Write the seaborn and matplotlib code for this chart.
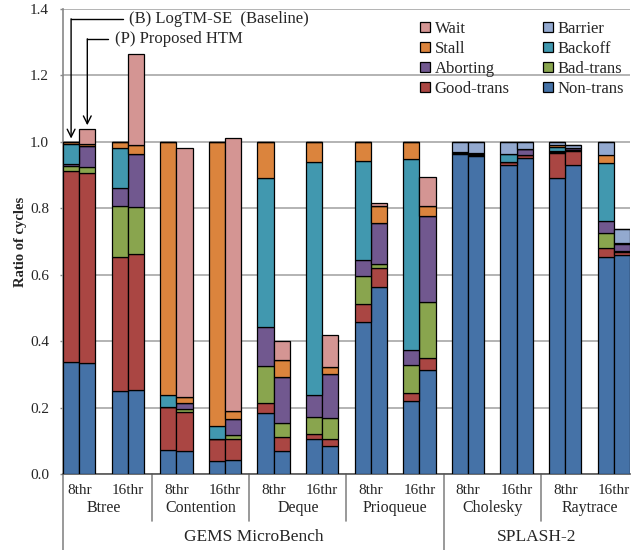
import matplotlib
matplotlib.use("Agg")
import matplotlib.pyplot as plt
import seaborn as sns
import numpy as np

# ---------------- data ----------------
benchmarks = ["Btree", "Contention", "Deque", "Prioqueue", "Cholesky", "Raytrace"]
threads = ["8thr", "16thr"]
suites = ["GEMS MicroBench", "SPLASH-2"]
suite_sizes = [4, 2]
ytick_vals = [0.0, 0.2, 0.4, 0.6, 0.8, 1.0, 1.2, 1.4]

# order of bars: for each benchmark, for each thread count: (B) baseline, (P) proposed
non_trans = [0.337, 0.335, 0.249, 0.254, 0.073, 0.070, 0.038, 0.043,
             0.183, 0.068, 0.105, 0.085, 0.459, 0.563, 0.221, 0.314,
             0.963, 0.957, 0.930, 0.950, 0.892, 0.930, 0.652, 0.658]
good_trans = [0.574, 0.571, 0.405, 0.407, 0.129, 0.117, 0.066, 0.062,
              0.032, 0.043, 0.014, 0.020, 0.053, 0.057, 0.022, 0.035,
              0.002, 0.002, 0.010, 0.009, 0.075, 0.043, 0.028, 0.011]
bad_trans = [0.016, 0.018, 0.154, 0.143, 0.000, 0.009, 0.000, 0.012,
             0.110, 0.042, 0.052, 0.064, 0.085, 0.011, 0.086, 0.169,
             0.000, 0.001, 0.000, 0.000, 0.003, 0.002, 0.047, 0.003]
aborting = [0.006, 0.063, 0.053, 0.158, 0.000, 0.019, 0.000, 0.048,
            0.117, 0.139, 0.066, 0.132, 0.047, 0.124, 0.043, 0.259,
            0.002, 0.003, 0.000, 0.020, 0.003, 0.008, 0.034, 0.020]
backoff = [0.061, 0.000, 0.121, 0.000, 0.035, 0.000, 0.042, 0.000,
           0.449, 0.000, 0.703, 0.000, 0.299, 0.000, 0.577, 0.000,
           0.002, 0.000, 0.024, 0.000, 0.012, 0.000, 0.174, 0.003]
stall = [0.006, 0.008, 0.018, 0.029, 0.763, 0.016, 0.854, 0.026,
         0.109, 0.050, 0.060, 0.020, 0.057, 0.052, 0.051, 0.030,
         0.001, 0.002, 0.000, 0.000, 0.006, 0.000, 0.024, 0.000]
barrier = [0.000, 0.000, 0.000, 0.000, 0.000, 0.000, 0.000, 0.000,
           0.000, 0.000, 0.000, 0.000, 0.000, 0.000, 0.000, 0.000,
           0.030, 0.035, 0.036, 0.021, 0.009, 0.008, 0.041, 0.042]
wait = [0.000, 0.045, 0.000, 0.273, 0.000, 0.749, 0.000, 0.821,
        0.000, 0.057, 0.000, 0.098, 0.000, 0.010, 0.000, 0.087,
        0.000, 0.000, 0.000, 0.000, 0.000, 0.000, 0.000, 0.000]

series_names = ["Non-trans", "Good-trans", "Bad-trans", "Aborting",
                "Backoff", "Stall", "Barrier", "Wait"]
series_vals = [non_trans, good_trans, bad_trans, aborting,
               backoff, stall, barrier, wait]
colors = {"Non-trans": "#4572A7", "Good-trans": "#AA4643", "Bad-trans": "#89A54E",
          "Aborting": "#71588F", "Backoff": "#4198AF", "Stall": "#DB843D",
          "Barrier": "#93A9CF", "Wait": "#D49593"}

# ---------------- style ----------------
sns.set_theme(style="white")
plt.rcParams["font.family"] = ["Liberation Serif", "DejaVu Serif"]

fig = plt.figure(figsize=(6.35, 5.5), dpi=100)
ax = fig.add_axes([63 / 635, (550 - 474) / 550, (630 - 63) / 635, (474 - 9) / 550])

n_pairs = len(benchmarks) * len(threads)
pos = []
for g in range(n_pairs):
    pos += [3 * g, 3 * g + 1]
pos = np.array(pos, dtype=float)

bottom = np.zeros(len(pos))
handles = {}
for name, vals in zip(series_names, series_vals):
    v = np.array(vals)
    bars = ax.bar(pos, v, width=1.0, bottom=bottom, color=colors[name],
                  edgecolor="black", linewidth=0.9, label=name, zorder=3)
    handles[name] = bars
    bottom += v
totals = bottom

ax.set_xlim(-0.5, 3 * (n_pairs - 1) + 1.5)
ax.set_ylim(0, 1.4)
ax.set_yticks(ytick_vals)
ax.set_yticklabels([f"{t:.1f}" for t in ytick_vals], fontsize=11)
ax.yaxis.grid(True, color="#b3b3b3", linewidth=1.4, zorder=0)
ax.set_axisbelow(True)
ax.set_xticks([])
for s in ["top", "right"]:
    ax.spines[s].set_visible(False)
ax.spines["left"].set_color("#888888")
ax.spines["left"].set_linewidth(1.2)
ax.spines["bottom"].set_color("#555555")
ax.spines["bottom"].set_linewidth(1.2)
ax.tick_params(axis="y", left=True, length=2.5, width=1.0, color="#888888",
               direction="out", pad=7.5)
ax.set_ylabel("Ratio of cycles", fontsize=10.5, fontweight="bold", labelpad=2)

# ---------------- multi-level category axis ----------------
trans = ax.get_xaxis_transform()
axh = 474 - 9
def ya(px):
    return -(px - 474) / axh

for g in range(n_pairs):
    ax.text(3 * g + 0.5, ya(490), threads[g % 2], transform=trans,
            ha="center", va="center", fontsize=11)
for b, name in enumerate(benchmarks):
    ax.text(6 * b + 2, ya(508), name, transform=trans,
            ha="center", va="center", fontsize=11.5)
# separators between benchmarks
seps = [6 * b + 5 for b in range(len(benchmarks) - 1)]
suite_edges = [-0.5]
acc = 0
for s in suite_sizes[:-1]:
    acc += s
    suite_edges.append(6 * acc - 1)
for x in seps:
    if x in suite_edges:
        continue
    ax.plot([x, x], [0, ya(521)], transform=trans, color="#888888",
            linewidth=1.2, clip_on=False)
for x in suite_edges:
    ax.plot([x, x], [0, ya(552)], transform=trans, color="#888888",
            linewidth=1.2, clip_on=False)
acc = 0
for s, name in zip(suite_sizes, suites):
    start = 6 * acc - 0.5 if acc == 0 else 6 * acc - 1
    end = 6 * (acc + s) - 1 if acc + s < len(benchmarks) else ax.get_xlim()[1]
    ax.text((start + end) / 2, ya(537), name, transform=trans,
            ha="center", va="center", fontsize=12.5)
    acc += s

# ---------------- annotations ----------------
def ydata(px):
    return (474 - px) / 332.0

xb, xp = pos[0], pos[1]
ax.plot([xb, xb + 3.2], [ydata(19), ydata(19)], color="black", lw=1.0, clip_on=False, zorder=5)
ax.annotate("", xy=(xb, totals[0] + 0.01), xytext=(xb, ydata(19)),
            arrowprops=dict(arrowstyle="->", color="black", lw=1.0,
                            shrinkA=0, shrinkB=0, mutation_scale=14), zorder=5)
ax.text(xb + 3.6, ydata(19), "(B) LogTM-SE  (Baseline)", ha="left", va="center",
        fontsize=12)
ax.plot([xp, xp + 1.3], [ydata(39), ydata(39)], color="black", lw=1.0, clip_on=False, zorder=5)
ax.annotate("", xy=(xp, totals[1] + 0.01), xytext=(xp, ydata(39)),
            arrowprops=dict(arrowstyle="->", color="black", lw=1.0,
                            shrinkA=0, shrinkB=0, mutation_scale=14), zorder=5)
ax.text(xp + 1.7, ydata(39), "(P) Proposed HTM", ha="left", va="center",
        fontsize=12)

# ---------------- legend ----------------
order = ["Wait", "Stall", "Aborting", "Good-trans",
         "Barrier", "Backoff", "Bad-trans", "Non-trans"]
leg = ax.legend([handles[n] for n in order], order, ncol=2, loc="upper left",
                bbox_to_anchor=(413 / 635, (550 - 14) / 550), bbox_transform=fig.transFigure,
                frameon=False, fontsize=12, handlelength=0.6, handleheight=0.6,
                handletextpad=0.3, columnspacing=2.0, labelspacing=0.24,
                borderaxespad=0)

fig.savefig("out.png", dpi=100)
